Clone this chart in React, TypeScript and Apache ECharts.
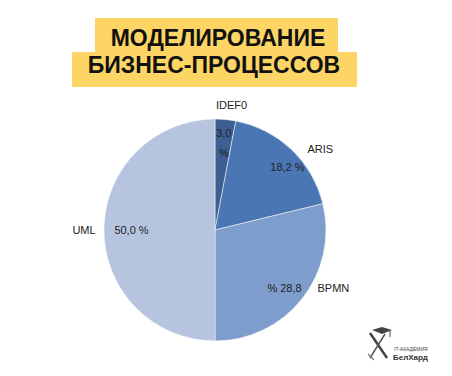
import React, { useEffect, useRef } from "react";
import * as echarts from "echarts";

const categories = ["IDEF0", "ARIS", "BPMN", "UML"];
const values = [3.0, 18.2, 28.8, 50.0];
const valueLabels = ["3,0\n%", "18,2 %", "% 28,8", "50,0 %"];
const colors = ["#3d5f92", "#4a77b3", "#7f9dcc", "#b6c4df"];
const titleLines = ["МОДЕЛИРОВАНИЕ", "БИЗНЕС-ПРОЦЕССОВ"];

// label nudges (style only)
const nameNudge: Record<string, [number, number]> = {
  IDEF0: [4, 8], ARIS: [13, 16], BPMN: [13, -25], UML: [3, 0],
};
const valueNudge: Record<string, [number, number]> = {
  IDEF0: [0, 6], ARIS: [8, 5], BPMN: [-4, 0], UML: [10, 0],
};

export default function App() {
  const ref = useRef<HTMLDivElement>(null);
  useEffect(() => {
    if (!ref.current) return;
    const chart = echarts.init(ref.current, undefined, { renderer: "svg" });
    const data = categories.map((c, i) => ({ name: c, value: values[i] }));
    const font = "Liberation Sans, Arial, sans-serif";
    chart.setOption({
      animation: false,
      backgroundColor: "#ffffff",
      graphic: [
        { type: "rect", shape: { x: 95, y: 18, width: 243, height: 35 }, style: { fill: "#fcd565" } },
        { type: "rect", shape: { x: 72, y: 52, width: 285, height: 35 }, style: { fill: "#fcd565" } },
        {
          type: "text", x: 218, y: 38,
          style: { text: titleLines[0], fill: "#111", font: "bold 23px " + font, textAlign: "center", textVerticalAlign: "middle" },
        },
        {
          type: "text", x: 214, y: 65,
          style: { text: titleLines[1], fill: "#111", font: "bold 23px " + font, textAlign: "center", textVerticalAlign: "middle" },
        },
        // logo
        { type: "line", shape: { x1: 370, y1: 333, x2: 387, y2: 358 }, style: { stroke: "#444", lineWidth: 2.5 } },
        { type: "line", shape: { x1: 385, y1: 334, x2: 370, y2: 358 }, style: { stroke: "#555", lineWidth: 1.5 } },
        { type: "polygon", shape: { points: [[372, 330], [382, 327], [392, 330], [382, 334]] }, style: { fill: "#444" } },
        { type: "line", shape: { x1: 390, y1: 330, x2: 390, y2: 337 }, style: { stroke: "#444", lineWidth: 1 } },
        { type: "line", shape: { x1: 368, y1: 354, x2: 374, y2: 360 }, style: { stroke: "#777", lineWidth: 1.2 } },
        {
          type: "text", x: 394, y: 349,
          style: { text: "IT-АКАДЕМИЯ", fill: "#444", font: "5px " + font, textVerticalAlign: "middle" },
        },
        {
          type: "text", x: 393, y: 357,
          style: { text: "БелХард", fill: "#333", font: "bold 8px " + font, textVerticalAlign: "middle" },
        },
      ],
      series: [
        {
          type: "pie",
          center: [215, 230],
          radius: [0, 111],
          startAngle: 90,
          clockwise: true,
          data,
          color: colors,
          itemStyle: { borderColor: "#ffffff", borderWidth: 0.5 },
          label: { show: false },
          labelLine: { show: false },
          emphasis: { disabled: true },
          silent: true,
        },
        {
          type: "pie",
          center: [215, 230],
          radius: [70, 111],
          startAngle: 90,
          clockwise: true,
          data,
          itemStyle: { color: "rgba(0,0,0,0)" },
          label: {
            show: true,
            position: "inside",
            formatter: (p: any) => valueLabels[p.dataIndex],
            color: "#222",
            fontSize: 11,
            fontFamily: font,
            lineHeight: 20,
          },
          labelLayout: (p: any) => {
            const n = valueNudge[categories[p.dataIndex]];
            return { dx: n[0], dy: n[1] };
          },
          labelLine: { show: false },
          emphasis: { disabled: true },
          silent: true,
          z: 3,
        },
        {
          type: "pie",
          center: [215, 230],
          radius: [112, 150],
          startAngle: 90,
          clockwise: true,
          data,
          itemStyle: { color: "rgba(0,0,0,0)" },
          label: {
            show: true,
            position: "inside",
            formatter: "{b}",
            color: "#222",
            fontSize: 11,
            fontFamily: font,
          },
          labelLayout: (p: any) => {
            const n = nameNudge[categories[p.dataIndex]];
            return { dx: n[0], dy: n[1] };
          },
          labelLine: { show: false },
          emphasis: { disabled: true },
          silent: true,
          z: 3,
        },
      ],
    });
    return () => chart.dispose();
  }, []);
  return <div ref={ref} style={{ position: "fixed", left: 0, top: 0, width: 452, height: 376 }} />;
}
